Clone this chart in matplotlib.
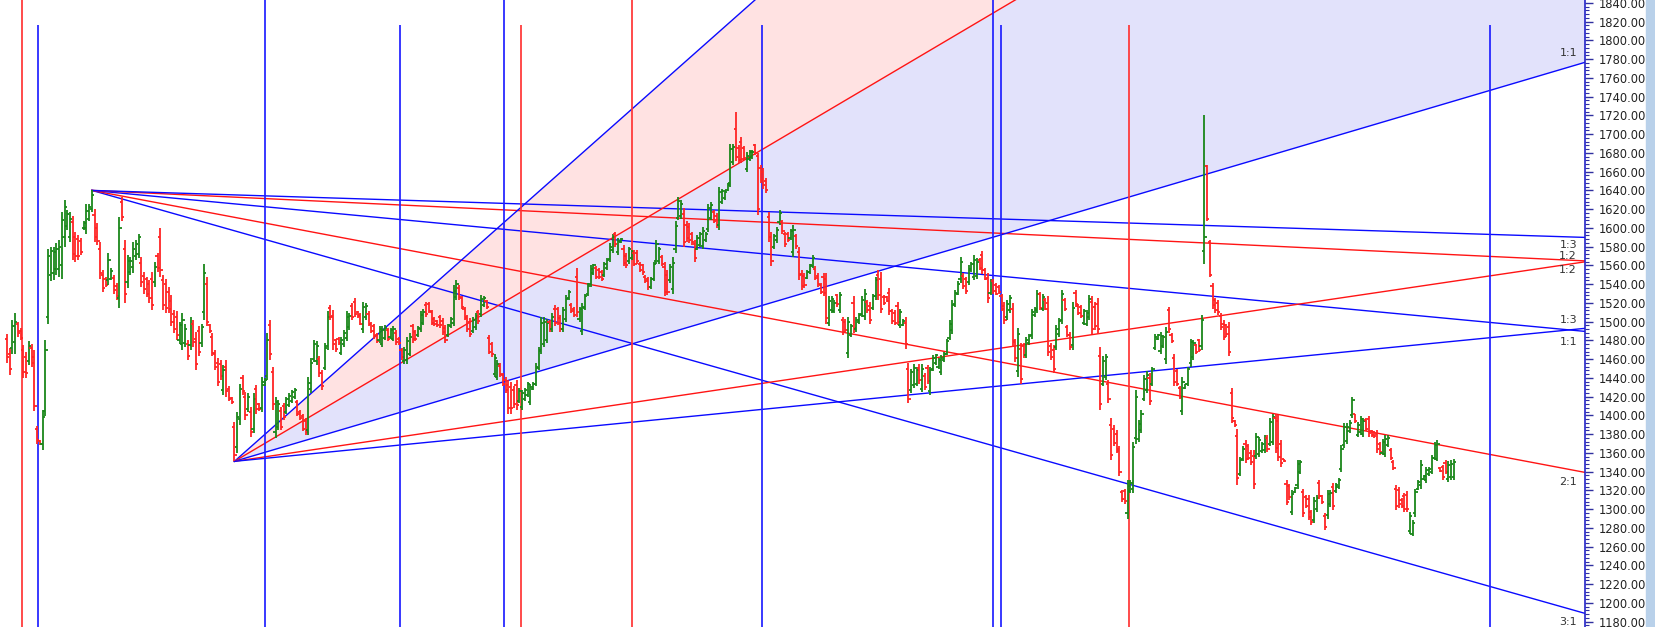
import numpy as np
import matplotlib
matplotlib.use("Agg")
import matplotlib.pyplot as plt
from matplotlib.collections import LineCollection
from matplotlib.patches import Rectangle
from matplotlib.ticker import MultipleLocator, FormatStrFormatter

# daily OHLC bars (oldest first)
highs = [
    1487,1472,1502,1509,1500,1493,1475,1468,1479,1476,
    1470,1389,1374,1406,1480,1578,1580,1580,1584,1587,
    1617,1630,1619,1617,1613,1596,1592,1589,1607,1625,
    1626,1640,1620,1605,1585,1555,1548,1573,1557,1550,
    1541,1612,1633,1587,1571,1569,1585,1587,1594,1569,
    1553,1548,1544,1553,1564,1573,1600,1550,1546,1537,
    1528,1512,1511,1500,1509,1497,1480,1505,1502,1489,
    1495,1498,1561,1548,1498,1488,1470,1461,1459,1454,
    1459,1431,1420,1393,
    1404,1434,1443,1425,1424,1409,1424,1432,1413,1441,
    1440,1488,1502,1452,1420,1416,1409,1413,1420,1424,
    1427,1429,1416,1406,1402,1397,1441,1461,1480,1479,
    1463,1448,1477,1511,1518,1512,1482,1484,1484,1491,
    1511,1509,1520,1525,1511,1509,1521,1520,1511,1500,
    1498,1488,1495,1495,1496,1493,1493,1495,1491,1484,
    1472,1473,1484,1488,1498,1491,1495,1511,1513,1521,
    1521,1512,1505,1502,
    1507,1504,1496,1498,1505,1539,1544,1539,1527,1516,
    1507,1504,1505,1509,1512,1528,1527,1523,1486,1478,
    1466,1459,1456,1445,1441,1438,1436,1431,1438,1429,
    1427,1429,1436,1434,1436,1456,1473,1505,1505,1503,
    1502,1509,1518,1516,1507,1516,1528,1534,1520,1516,
    1557,1516,1520,1530,1541,1560,1562,1559,1557,1555,
    1564,1568,1584,1594,1596,1589,1589,1582,1573,1580,
    1576,1576,1576,1564,1562,1550,1548,1548,1564,1587,
    1580,
    1571,1564,1555,1562,1569,1607,1633,1630,1621,1607,
    1605,1596,1587,1592,1596,1601,1596,1626,1628,1619,
    1616,1644,1642,1640,1648,1690,1690,1724,1688,1697,
    1687,1681,1683,1683,1690,1680,1667,1664,1653,1617,
    1596,1594,1601,1619,1608,1596,1596,1599,1603,1594,
    1580,1555,1552,1555,1562,1571,1559,1552,1541,1552,
    1552,1527,1527,1523,1530,1532,1505,1503,1505,1498,
    1527,1505,1509,1527,1535,1523,1521,1530,1548,1555,
    1553,1528,1527,1536,1514,1512,1521,1514,1503,1505,
    1456,1450,1455,1452,1455,1455,1445,1454,1452,1464,
    1466,1461,1464,1468,1482,1502,1523,1534,1543,1569,
    1552,1548,1560,1564,1571,1568,1568,1575,1557,1552,
    1546,1546,1541,1539,1530,1521,1523,1528,1520,1482,
    1493,1477,1477,1484,1487,1514,1516,1534,1532,1529,
    1525,1527,1477,1475,1496,1504,1534,1525,1496,1489,
    1521,1534,1519,1518,1514,1512,1528,1527,1521,1525,
    1473,1463,1466,
    1438,1397,1390,1384,1367,1320,1322,1331,1331,1372,
    1427,1395,1406,1443,1447,1445,1452,1487,1487,1489,
    1486,1494,1516,1488,1466,1450,1431,1441,1434,1452,
    1482,1480,1476,1482,1507,1720,1667,1587,1541,1525,
    1523,1509,1502,1498,1500,1429,1395,1386,1356,1367,
    1374,1370,1363,1363,1381,1377,1372,1379,1379,1397,
    1402,1402,1400,1374,1354,1331,1327,1320,1324,1352,
    1352,1322,1315,1315,1299,1313,1315,1331,1315,1296,
    1320,1320,
    1328,1328,1333,1368,1392,1392,1395,1420,1402,1393,
    1399,1397,1397,1399,1384,1383,1384,1372,1375,1379,
    1379,1365,1352,1326,1324,1312,1317,1319,1297,1288,
    1322,1331,1352,1336,1345,1345,1358,1372,1374,1345,
    1347,1352,1351,1352,1354,
]
lows = [
    1456,1443,1466,1466,1484,1480,1440,1440,1454,1452,
    1405,1370,1368,1363,1399,1498,1543,1544,1550,1548,
    1546,1580,1598,1585,1566,1564,1566,1571,1598,1594,
    1607,1617,1585,1582,1546,1532,1537,1539,1544,1530,
    1523,1515,1607,1520,1536,1550,1552,1566,1568,1537,
    1530,1526,1520,1512,1537,1553,1548,1512,1509,1509,
    1495,1488,1480,1476,1470,1473,1459,1470,1473,1448,
    1463,1473,1502,1495,1488,1463,1448,1431,1438,1422,
    1420,1415,1412,1351,
    1360,1390,1422,1395,1404,1377,1381,1402,1405,1404,
    1431,1438,1459,1406,1376,1384,1384,1395,1402,1409,
    1413,1418,1399,1395,1383,1379,1379,1424,1457,1454,
    1441,1427,1448,1470,1502,1470,1468,1475,1464,1473,
    1479,1491,1502,1505,1504,1496,1488,1502,1495,1488,
    1482,1477,1477,1473,1480,1479,1482,1479,1475,1475,
    1459,1455,1455,1463,1477,1479,1484,1489,1496,1505,
    1509,1496,1495,1494,
    1493,1486,1477,1484,1493,1495,1523,1523,1513,1502,
    1489,1484,1488,1491,1498,1505,1516,1514,1465,1462,
    1441,1438,1441,1431,1424,1402,1402,1408,1406,1413,
    1406,1415,1420,1411,1427,1431,1448,1466,1473,1477,
    1489,1489,1495,1496,1489,1489,1500,1523,1509,1505,
    1505,1500,1486,1512,1527,1537,1550,1545,1546,1543,
    1548,1555,1564,1573,1580,1571,1584,1559,1557,1562,
    1566,1559,1562,1553,1550,1541,1534,1535,1543,1562,
    1562,
    1559,1527,1528,1541,1530,1573,1608,1610,1580,1585,
    1584,1582,1564,1576,1580,1578,1585,1596,1608,1605,
    1600,1598,1626,1630,1639,1644,1667,1671,1669,1669,
    1672,1660,1671,1674,1678,1614,1648,1642,1637,1585,
    1559,1578,1584,1603,1594,1580,1585,1587,1569,1578,
    1544,1534,1536,1545,1551,1557,1544,1537,1530,1527,
    1498,1495,1509,1509,1516,1509,1486,1488,1461,1484,
    1488,1489,1498,1505,1502,1509,1498,1512,1523,1523,
    1509,1518,1521,1507,1498,1496,1496,1493,1495,1471,
    1413,1424,1429,1431,1434,1425,1427,1434,1422,1447,
    1454,1450,1443,1457,1464,1480,1487,1516,1528,1541,
    1535,1530,1539,1553,1544,1546,1555,1551,1544,1520,
    1528,1530,1528,1530,1511,1498,1502,1509,1473,1457,
    1441,1434,1461,1461,1475,1482,1505,1509,1512,1511,
    1512,1463,1459,1445,1470,1484,1498,1511,1484,1470,
    1470,1516,1507,1504,1496,1495,1502,1487,1491,1487,
    1406,1431,1438,
    1413,1352,1367,1360,1335,1308,1306,1290,1317,1317,
    1370,1372,1381,1415,1424,1411,1431,1470,1480,1466,
    1472,1455,1488,1477,1431,1431,1418,1400,1428,1431,
    1452,1459,1466,1468,1470,1562,1607,1548,1514,1509,
    1507,1491,1480,1484,1463,1392,1388,1326,1335,1351,
    1349,1352,1347,1322,1354,1356,1360,1360,1361,1367,
    1368,1360,1351,1345,1350,1304,1310,1294,1317,1322,
    1338,1292,1301,1288,1283,1285,1297,1311,1306,1278,
    1290,1302,
    1299,1317,1322,1340,1365,1370,1381,1397,1392,1377,
    1379,1377,1383,1377,1377,1376,1360,1358,1358,1356,
    1366,1352,1342,1299,1301,1301,1297,1297,1274,1271,
    1292,1320,1322,1331,1328,1335,1337,1352,1351,1340,
    1331,1337,1329,1331,1331,
]
opens = [
    1481,1466,1472,1478,1497,1490,1470,1462,1458,1472,
    1462,1386,1373,1370,1405,1505,1550,1552,1556,1556,
    1560,1590,1602,1590,1606,1590,1588,1586,1600,1600,
    1610,1620,1614,1600,1578,1550,1546,1544,1546,1547,
    1538,1525,1628,1578,1542,1553,1558,1570,1572,1563,
    1549,1545,1540,1546,1542,1570,1590,1544,1540,1532,
    1522,1508,1505,1480,1476,1477,1476,1475,1497,1482,
    1490,1477,1510,1540,1496,1484,1466,1456,1455,1427,
    1452,1428,1419,1388,
    1366,1396,1440,1420,1407,1404,1386,1428,1412,1408,
    1432,1442,1496,1446,1382,1388,1405,1410,1404,1411,
    1415,1420,1414,1404,1399,1394,1384,1428,1460,1458,
    1460,1445,1451,1474,1515,1506,1480,1482,1467,1476,
    1483,1494,1517,1521,1510,1507,1492,1505,1508,1498,
    1495,1486,1480,1476,1483,1491,1484,1482,1488,1482,
    1470,1458,1459,1466,1495,1489,1486,1492,1499,1518,
    1519,1510,1503,1501,
    1505,1501,1493,1486,1495,1499,1526,1536,1525,1514,
    1504,1500,1490,1494,1510,1508,1518,1522,1483,1476,
    1444,1441,1453,1443,1438,1432,1430,1427,1432,1415,
    1409,1417,1422,1414,1428,1434,1451,1470,1476,1480,
    1500,1492,1514,1513,1504,1492,1503,1525,1518,1514,
    1548,1503,1490,1515,1529,1540,1552,1557,1555,1553,
    1550,1557,1567,1576,1593,1574,1585,1578,1570,1565,
    1568,1573,1573,1562,1560,1548,1546,1537,1546,1565,
    1565,
    1569,1558,1550,1544,1535,1577,1611,1613,1615,1603,
    1601,1593,1583,1578,1582,1581,1587,1599,1611,1617,
    1613,1603,1628,1632,1640,1648,1670,1705,1685,1692,
    1685,1663,1673,1676,1688,1677,1664,1660,1650,1612,
    1590,1580,1587,1606,1606,1593,1594,1589,1574,1591,
    1574,1551,1549,1547,1553,1559,1556,1549,1539,1548,
    1545,1499,1512,1511,1528,1512,1502,1500,1467,1486,
    1520,1492,1500,1508,1506,1521,1517,1515,1527,1550,
    1546,1526,1526,1531,1511,1509,1517,1496,1496,1499,
    1450,1427,1432,1434,1451,1428,1442,1451,1426,1449,
    1456,1452,1446,1459,1466,1483,1491,1519,1530,1545,
    1549,1545,1542,1555,1548,1549,1566,1571,1555,1547,
    1531,1543,1539,1537,1527,1517,1505,1512,1513,1478,
    1447,1471,1474,1464,1477,1486,1507,1512,1529,1514,
    1523,1520,1474,1470,1473,1487,1502,1523,1494,1486,
    1475,1531,1517,1516,1499,1497,1505,1521,1516,1519,
    1463,1434,1441,
    1434,1390,1386,1380,1362,1318,1319,1296,1319,1322,
    1376,1375,1384,1418,1427,1440,1434,1472,1481,1469,
    1474,1460,1512,1486,1461,1447,1429,1405,1429,1434,
    1456,1462,1475,1480,1474,1575,1666,1585,1538,1523,
    1520,1506,1498,1496,1494,1424,1394,1378,1338,1353,
    1370,1367,1360,1357,1357,1359,1362,1363,1376,1370,
    1372,1397,1394,1370,1353,1327,1325,1297,1318,1326,
    1340,1318,1313,1311,1297,1288,1300,1328,1314,1293,
    1294,1305,
    1324,1319,1324,1343,1368,1373,1383,1400,1401,1379,
    1382,1380,1395,1396,1383,1382,1380,1370,1360,1359,
    1368,1363,1350,1322,1320,1310,1314,1315,1277,1273,
    1296,1322,1326,1332,1331,1337,1340,1355,1354,1344,
    1345,1349,1332,1334,1334,
]
closes = [
    1462,1450,1495,1500,1488,1483,1446,1445,1474,1456,
    1410,1374,1369,1398,1470,1570,1575,1574,1578,1580,
    1608,1622,1615,1610,1572,1570,1570,1574,1605,1618,
    1622,1635,1590,1586,1552,1536,1539,1566,1554,1534,
    1527,1600,1612,1530,1565,1565,1578,1583,1590,1542,
    1535,1530,1525,1518,1558,1557,1555,1518,1515,1514,
    1500,1492,1486,1496,1502,1492,1463,1498,1478,1455,
    1468,1494,1552,1500,1490,1467,1452,1436,1442,1448,
    1426,1418,1414,1358,
    1398,1428,1426,1400,1420,1382,1418,1407,1407,1436,
    1438,1480,1465,1412,1414,1412,1388,1398,1417,1421,
    1425,1427,1402,1397,1386,1382,1435,1456,1476,1474,
    1445,1431,1472,1505,1505,1476,1471,1477,1480,1488,
    1505,1506,1505,1508,1506,1498,1516,1517,1498,1490,
    1485,1479,1492,1491,1493,1482,1491,1492,1478,1477,
    1462,1470,1479,1484,1481,1482,1493,1507,1510,1508,
    1511,1499,1497,1496,
    1496,1489,1480,1496,1503,1533,1540,1526,1516,1505,
    1492,1487,1502,1506,1501,1524,1525,1516,1468,1465,
    1461,1455,1444,1434,1427,1408,1408,1412,1411,1426,
    1424,1427,1433,1430,1434,1452,1469,1499,1500,1499,
    1492,1505,1499,1499,1492,1512,1524,1532,1511,1507,
    1510,1513,1516,1527,1538,1556,1560,1548,1548,1545,
    1561,1566,1580,1590,1583,1586,1588,1563,1560,1577,
    1574,1562,1565,1555,1553,1543,1537,1546,1561,1583,
    1577,
    1561,1532,1532,1558,1563,1602,1629,1626,1585,1589,
    1587,1585,1568,1589,1593,1597,1594,1621,1624,1607,
    1603,1638,1639,1638,1646,1684,1686,1676,1672,1673,
    1675,1677,1681,1681,1680,1620,1651,1646,1640,1590,
    1565,1591,1598,1616,1597,1583,1587,1597,1598,1581,
    1550,1538,1539,1553,1560,1568,1547,1540,1532,1531,
    1504,1522,1524,1520,1519,1528,1489,1491,1500,1495,
    1493,1502,1507,1523,1530,1512,1502,1527,1544,1528,
    1514,1520,1522,1511,1501,1499,1500,1510,1501,1476,
    1418,1446,1451,1448,1438,1450,1430,1437,1448,1461,
    1464,1459,1461,1466,1479,1498,1518,1531,1540,1564,
    1538,1533,1556,1562,1566,1564,1557,1555,1546,1525,
    1543,1533,1530,1532,1514,1502,1519,1525,1479,1461,
    1487,1439,1464,1480,1485,1510,1514,1530,1515,1526,
    1514,1468,1462,1450,1492,1501,1529,1514,1486,1473,
    1515,1519,1509,1506,1511,1509,1524,1492,1495,1492,
    1412,1458,1462,
    1417,1358,1371,1364,1340,1311,1309,1325,1328,1366,
    1420,1391,1402,1439,1443,1415,1449,1484,1486,1485,
    1484,1489,1492,1479,1436,1434,1420,1436,1433,1449,
    1478,1477,1468,1470,1502,1590,1609,1550,1518,1512,
    1510,1494,1484,1487,1468,1397,1390,1333,1352,1364,
    1353,1355,1350,1327,1377,1374,1370,1376,1364,1393,
    1398,1365,1356,1349,1351,1308,1313,1316,1323,1348,
    1350,1296,1303,1292,1286,1309,1312,1314,1308,1281,
    1316,1317,
    1303,1326,1331,1364,1388,1388,1392,1416,1394,1390,
    1396,1394,1386,1381,1379,1378,1364,1361,1372,1375,
    1376,1355,1344,1303,1305,1303,1300,1300,1293,1285,
    1318,1329,1347,1335,1342,1343,1355,1368,1370,1341,
    1334,1340,1347,1348,1350,
]

# Gann fans: pivot (bar, price) and price-per-bar of the 1x1 angle
high_pivot = (31, 1640)
low_pivot = (83, 1351)
high_unit = 0.276
low_unit = 0.8635
fan_ratios = {"3:1": 3.0, "2:1": 2.0, "1:1": 1.0, "1:2": 0.5, "1:3": 1 / 3}

# cycle lines (bar positions)
vl_red_full = [5.5, 228.0]
vl_blue_full = [94.2, 181.3, 359.8]
vl_red_part = [187.5, 409.5]
vl_blue_part = [11.3, 143.5, 275.7, 362.8, 541.3]

n = len(closes)
assert len(highs) == n and len(lows) == n and len(opens) == n, (len(highs), len(lows), len(opens), n)

RED = "#ff2424"
GREEN = "#1a871a"
BLUE = "#0a0aff"
FRED = "#ff1414"

fig = plt.figure(figsize=(16.56, 6.27), dpi=100)
fig.add_artist(Rectangle((1646 / 1656, 0), 10 / 1656, 1, transform=fig.transFigure,
                         color="#b9d1ea", zorder=0))
ax = fig.add_axes([0, 0, 1585 / 1656, 1])
x_left, x_right = -2.55, 575.9
y_bot, y_top = 1174.3, 1843.1
ax.set_xlim(x_left, x_right)
ax.set_ylim(y_bot, y_top)

def fan_y(pivot, sign, unit, ratio, x):
    return pivot[1] + sign * unit * ratio * (np.asarray(x) - pivot[0])

def fan_color(name):
    return FRED if name in ("2:1", "1:2") else BLUE

# shaded bands of the lower fan
xs = np.linspace(low_pivot[0], x_right, 300)
ax.fill_between(xs, fan_y(low_pivot, 1, low_unit, 2, xs), fan_y(low_pivot, 1, low_unit, 3, xs),
                color="#ffe2e2", lw=0, zorder=0)
ax.fill_between(xs, fan_y(low_pivot, 1, low_unit, 1, xs), fan_y(low_pivot, 1, low_unit, 2, xs),
                color="#e2e2fb", lw=0, zorder=0)

# fan lines + labels at the right edge (offset above/below the line end, in price)
label_off_high = {"1:3": -8, "1:2": 5, "1:1": -11, "2:1": -10, "3:1": -9}
label_off_low = {"1:1": 10, "1:2": -9, "1:3": 9}
for pivot, sign, unit, offs in ((high_pivot, -1, high_unit, label_off_high),
                                (low_pivot, 1, low_unit, label_off_low)):
    for name, r in fan_ratios.items():
        yend = fan_y(pivot, sign, unit, r, x_right)
        ax.plot([pivot[0], x_right], [pivot[1], yend], color=fan_color(name), lw=1.0, zorder=1)
        if name in offs and y_bot - 10 < yend < y_top:
            ax.text(x_right - 2.9, yend + offs[name], name, ha="right", va="center",
                    fontsize=8.0, color="#333333", zorder=5)

# vertical cycle lines
vl_part_top = 1816.4
ax.vlines(vl_red_full, y_bot, y_top, color="#ff3535", lw=1.25, zorder=2)
ax.vlines(vl_blue_full, y_bot, y_top, color="#2020ff", lw=1.25, zorder=2)
ax.vlines(vl_red_part, y_bot, vl_part_top, color="#ff3535", lw=1.25, zorder=2)
ax.vlines(vl_blue_part, y_bot, vl_part_top, color="#2020ff", lw=1.25, zorder=2)

# OHLC bars
tick = 0.8
segs, cols = [], []
for i in range(n):
    c = GREEN if closes[i] > opens[i] else RED
    segs += [[(i, lows[i]), (i, highs[i])],
             [(i - tick, opens[i]), (i, opens[i])],
             [(i, closes[i]), (i + tick, closes[i])]]
    cols += [c, c, c]
ax.add_collection(LineCollection(segs, colors=cols, linewidths=1.3, capstyle="butt", zorder=3))

# right price axis
ax.yaxis.tick_right()
ax.yaxis.set_major_locator(MultipleLocator(20))
ax.yaxis.set_minor_locator(MultipleLocator(4))
ax.yaxis.set_major_formatter(FormatStrFormatter("%.2f"))
ax.tick_params(axis="y", which="major", length=6, width=1, color="#3030a0",
               labelsize=8.3, labelcolor="#222222", pad=4)
ax.tick_params(axis="y", which="minor", length=3, width=0.8, color="#3030a0")
ax.set_xticks([])
for s in ("top", "left", "bottom"):
    ax.spines[s].set_visible(False)
ax.spines["right"].set_color("#2424c8")
ax.spines["right"].set_linewidth(1.2)

fig.savefig("out.png", dpi=100)
